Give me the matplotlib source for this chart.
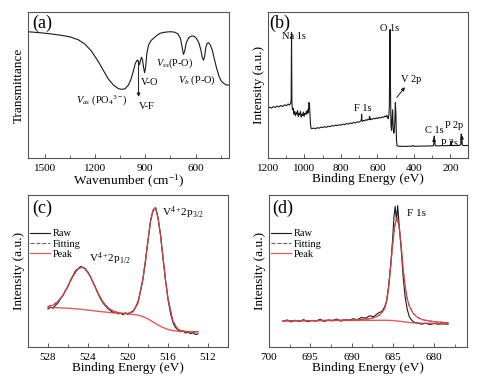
import matplotlib
matplotlib.use('Agg')
import matplotlib.pyplot as plt
from matplotlib.ticker import MultipleLocator

plt.rcParams['font.family'] = 'Liberation Serif'
plt.rcParams['mathtext.fontset'] = 'custom'
plt.rcParams['mathtext.rm'] = 'Liberation Serif'
plt.rcParams['mathtext.it'] = 'Liberation Serif:italic'
plt.rcParams['axes.linewidth'] = 0.8

# (a) FT-IR spectrum
ir_wn = [1600, 1550, 1500, 1450, 1400, 1350, 1300, 1260, 1220, 1180,
         1150, 1120, 1090, 1060, 1040, 1020, 1000, 985, 970, 960,
         952, 946, 940, 934, 928, 922, 916, 910, 904, 898,
         890, 880, 865, 850, 830, 810, 780, 750, 725, 705,
         690, 680, 672, 665, 655, 640, 625, 610, 595, 580,
         568, 560, 552, 545, 538, 530, 522, 512, 500, 488,
         475, 460, 445, 430, 415, 400]
ir_t = [0.865, 0.860, 0.855, 0.848, 0.840, 0.830, 0.810, 0.780, 0.730, 0.660,
        0.600, 0.540, 0.500, 0.475, 0.470, 0.475, 0.500, 0.540, 0.600, 0.645,
        0.665, 0.670, 0.655, 0.640, 0.670, 0.690, 0.670, 0.620, 0.585, 0.620,
        0.720, 0.775, 0.805, 0.820, 0.840, 0.855, 0.862, 0.865, 0.862, 0.850,
        0.820, 0.760, 0.710, 0.730, 0.790, 0.825, 0.835, 0.835, 0.820, 0.790,
        0.740, 0.690, 0.670, 0.700, 0.760, 0.785, 0.790, 0.775, 0.740, 0.680,
        0.620, 0.560, 0.525, 0.510, 0.500, 0.500]

# (b) XPS survey
sv_e = [1200, 1190, 1180, 1170, 1160, 1150, 1140, 1130, 1120, 1110,
        1100, 1090, 1082, 1076, 1073, 1071, 1069, 1066, 1062, 1058,
        1054, 1050, 1046, 1042, 1038, 1034, 1030, 1026, 1022, 1018,
        1014, 1010, 1006, 1002, 998, 994, 990, 986, 982, 979,
        976, 973, 970, 967, 964, 960, 950, 940, 930, 920,
        910, 900, 890, 880, 870, 860, 850, 840, 830, 820,
        810, 800, 790, 780, 770, 760, 750, 740, 730, 720,
        710, 700, 694, 690, 688, 687, 685, 682, 676, 670,
        664, 658, 652, 646, 643, 640, 636, 630, 622, 614,
        606, 598, 590, 582, 574, 566, 558, 552, 548, 544,
        541, 538, 535, 533, 531, 529, 526, 523, 520, 517,
        514, 511, 508, 505, 502, 499, 496, 493, 490, 480,
        470, 460, 450, 440, 430, 420, 410, 406, 402, 398,
        390, 380, 370, 360, 350, 340, 330, 320, 310, 300,
        294, 291, 289, 287, 284, 280, 270, 260, 250, 240,
        230, 220, 210, 203, 199, 197, 195, 192, 185, 175,
        165, 155, 148, 144, 142, 140, 138, 135, 130, 120,
        110, 105]
sv_i = [0.340, 0.348, 0.342, 0.352, 0.346, 0.356, 0.350, 0.360, 0.352, 0.364,
        0.358, 0.370, 0.362, 0.375, 0.400, 0.860, 0.380, 0.330, 0.340, 0.300,
        0.320, 0.290, 0.310, 0.300, 0.325, 0.285, 0.305, 0.295, 0.320, 0.280,
        0.300, 0.290, 0.315, 0.285, 0.305, 0.300, 0.320, 0.300, 0.330, 0.310,
        0.380, 0.370, 0.300, 0.230, 0.205, 0.200, 0.205, 0.200, 0.208, 0.204,
        0.212, 0.208, 0.215, 0.210, 0.218, 0.214, 0.222, 0.218, 0.226, 0.222,
        0.228, 0.225, 0.232, 0.228, 0.236, 0.232, 0.240, 0.236, 0.244, 0.240,
        0.248, 0.245, 0.252, 0.255, 0.270, 0.300, 0.258, 0.250, 0.258, 0.255,
        0.262, 0.258, 0.266, 0.262, 0.285, 0.262, 0.268, 0.264, 0.272, 0.268,
        0.275, 0.270, 0.278, 0.274, 0.282, 0.278, 0.288, 0.282, 0.292, 0.275,
        0.270, 0.290, 0.350, 0.600, 0.880, 0.500, 0.220, 0.190, 0.260, 0.330,
        0.200, 0.170, 0.180, 0.250, 0.380, 0.300, 0.120, 0.085, 0.082, 0.080,
        0.081, 0.079, 0.080, 0.079, 0.081, 0.080, 0.082, 0.086, 0.081, 0.080,
        0.081, 0.080, 0.082, 0.081, 0.082, 0.081, 0.083, 0.082, 0.083, 0.082,
        0.084, 0.100, 0.150, 0.120, 0.086, 0.083, 0.084, 0.083, 0.085, 0.084,
        0.085, 0.084, 0.086, 0.085, 0.090, 0.115, 0.095, 0.086, 0.085, 0.086,
        0.085, 0.087, 0.086, 0.095, 0.160, 0.165, 0.110, 0.088, 0.086, 0.085,
        0.086, 0.085]

# (c) V 2p
v_raw_e = [528.00, 527.75, 527.50, 527.25, 527.00, 526.75, 526.50, 526.25, 526.00, 525.75,
           525.50, 525.25, 525.00, 524.75, 524.50, 524.25, 524.00, 523.75, 523.50, 523.25,
           523.00, 522.75, 522.50, 522.25, 522.00, 521.75, 521.50, 521.25, 521.00, 520.75,
           520.50, 520.25, 520.00, 519.75, 519.50, 519.25, 519.00, 518.75, 518.50, 518.25,
           518.00, 517.75, 517.50, 517.25, 517.00, 516.75, 516.50, 516.25, 516.00, 515.75,
           515.50, 515.25, 515.00, 514.75, 514.50, 514.25, 514.00, 513.75, 513.50, 513.25,
           513.00]
v_raw = [0.250, 0.262, 0.255, 0.275, 0.290, 0.318, 0.338, 0.372, 0.398, 0.440,
         0.470, 0.502, 0.512, 0.530, 0.522, 0.515, 0.488, 0.462, 0.425, 0.390,
         0.352, 0.318, 0.290, 0.270, 0.252, 0.240, 0.226, 0.232, 0.218, 0.222,
         0.212, 0.225, 0.215, 0.228, 0.236, 0.262, 0.298, 0.370, 0.450, 0.572,
         0.700, 0.830, 0.895, 0.918, 0.850, 0.740, 0.585, 0.440, 0.315, 0.222,
         0.160, 0.128, 0.112, 0.100, 0.106, 0.092, 0.098, 0.088, 0.094, 0.082,
         0.086]
v_fit_e = [528.0, 527.5, 527.0, 526.5, 526.0, 525.5, 525.0, 524.5, 524.0, 523.5,
           523.0, 522.5, 522.0, 521.5, 521.0, 520.5, 520.0, 519.5, 519.0, 518.5,
           518.25, 518.0, 517.75, 517.5, 517.25, 517.0, 516.75, 516.5, 516.25, 516.0,
           515.5, 515.0, 514.5, 514.0, 513.5, 513.0]
v_fit = [0.266, 0.276, 0.300, 0.341, 0.402, 0.466, 0.515, 0.525, 0.492, 0.427,
         0.355, 0.296, 0.258, 0.237, 0.226, 0.221, 0.221, 0.231, 0.289, 0.447,
         0.568, 0.703, 0.824, 0.902, 0.915, 0.854, 0.736, 0.589, 0.442, 0.318,
         0.169, 0.116, 0.104, 0.101, 0.100, 0.100]
v_bg_e = [528.0, 527.0, 526.0, 525.0, 524.0, 523.0, 522.0, 521.0, 520.0, 519.0,
          518.5, 518.0, 517.5, 517.0, 516.5, 516.0, 515.5, 515.0, 514.0, 513.0]
v_bg = [0.260, 0.258, 0.255, 0.250, 0.243, 0.235, 0.228, 0.222, 0.218, 0.210,
        0.200, 0.185, 0.165, 0.145, 0.128, 0.115, 0.108, 0.104, 0.101, 0.100]

# (d) F 1s
f_raw_e = [698.3, 697.8, 697.3, 696.8, 696.3, 695.8, 695.3, 694.8, 694.3, 693.8,
           693.3, 692.8, 692.3, 691.8, 691.3, 690.8, 690.3, 689.8, 689.3, 688.8,
           688.3, 687.8, 687.3, 686.8, 686.3, 686.0, 685.75, 685.5, 685.25, 685.0,
           684.85, 684.7, 684.55, 684.4, 684.25, 684.0, 683.75, 683.5, 683.25, 683.0,
           682.75, 682.5, 682.0, 681.5, 681.0, 680.5, 680.0, 679.5, 679.0, 678.3]
f_raw = [0.170, 0.178, 0.165, 0.176, 0.168, 0.180, 0.166, 0.175, 0.170, 0.182,
         0.168, 0.178, 0.172, 0.184, 0.170, 0.180, 0.176, 0.186, 0.180, 0.194,
         0.190, 0.205, 0.200, 0.222, 0.235, 0.262, 0.300, 0.400, 0.540, 0.720,
         0.860, 0.925, 0.830, 0.930, 0.820, 0.660, 0.470, 0.330, 0.250, 0.200,
         0.180, 0.165, 0.158, 0.150, 0.156, 0.148, 0.155, 0.150, 0.152, 0.150]
f_fit_e = [698.3, 696.0, 694.0, 692.0, 690.0, 689.0, 688.0, 687.5, 687.0, 686.5,
           686.0, 685.75, 685.5, 685.25, 685.0, 684.75, 684.5, 684.25, 684.0, 683.75,
           683.5, 683.25, 683.0, 682.5, 682.0, 681.5, 681.0, 680.0, 679.0, 678.3]
f_fit = [0.172, 0.173, 0.174, 0.176, 0.178, 0.180, 0.185, 0.190, 0.198, 0.215,
         0.250, 0.300, 0.390, 0.530, 0.680, 0.800, 0.850, 0.800, 0.680, 0.520,
         0.400, 0.320, 0.270, 0.220, 0.195, 0.182, 0.175, 0.167, 0.162, 0.160]
f_bg_e = [698.3, 690.0, 686.0, 685.0, 684.0, 683.0, 682.0, 681.0, 678.3]
f_bg = [0.172, 0.175, 0.176, 0.174, 0.168, 0.161, 0.157, 0.156, 0.155]

red = '#d9403f'
ink = '#1a1a1a'
frame = '#555555'

fig = plt.figure(figsize=(4.85, 3.88), dpi=100)
ax_a = fig.add_axes([28/485, 1-158/388, 201/485, 146/388])
ax_b = fig.add_axes([268/485, 1-158/388, 200/485, 146/388])
ax_c = fig.add_axes([28/485, 1-347/388, 200/485, 152/388])
ax_d = fig.add_axes([269/485, 1-347/388, 198/485, 152/388])


def style(ax, xlim, major, minor, xlabel, ylabel):
    ax.set_xlim(*xlim)
    ax.set_ylim(0, 1)
    ax.set_yticks([])
    ax.xaxis.set_major_locator(MultipleLocator(major))
    ax.xaxis.set_minor_locator(MultipleLocator(minor))
    ax.tick_params(axis='x', which='major', direction='in', length=3, width=0.7,
                   labelsize=8, pad=4, color=frame)
    ax.tick_params(axis='x', which='minor', direction='in', length=2, width=0.6, color=frame)
    for s in ax.spines.values():
        s.set_color(frame)
    ax.set_xlabel(xlabel, fontsize=9.5, labelpad=0)
    ax.set_ylabel(ylabel, fontsize=9.5, labelpad=2)


# (a)
ax_a.plot(ir_wn, ir_t, color=ink, lw=0.8)
style(ax_a, (1600, 400), 300, 150, 'Wavenumber (cm$^{-1}$)', 'Transmittance')
ax_a.text(1575, 0.925, '(a)', fontsize=13, ha='left', va='center')
ax_a.text(1160, 0.40, r'$V_{as}$ (PO$_4$$^{3-}$)', fontsize=7.5, ha='center', va='center')
ax_a.annotate('', xy=(940, 0.40), xytext=(940, 0.685),
              arrowprops=dict(arrowstyle='-|>', color=ink, lw=0.7, mutation_scale=5))
ax_a.text(940, 0.355, 'V-F', fontsize=7.5, ha='left', va='center')
ax_a.text(928, 0.52, 'V-O', fontsize=7.5, ha='left', va='center')
ax_a.text(838, 0.65, r'$V_{ss}$(P-O)', fontsize=7.5, ha='left', va='center')
ax_a.text(706, 0.535, r'$V_b$ (P-O)', fontsize=7.5, ha='left', va='center')

# (b)
ax_b.plot(sv_e, sv_i, color=ink, lw=0.8)
style(ax_b, (1200, 104), 200, 100, 'Binding Energy (eV)', 'Intensity (a.u.)')
ax_b.text(1192, 0.925, '(b)', fontsize=13, ha='left', va='center')
ax_b.text(1060, 0.83, 'Na 1s', fontsize=7.5, ha='center', va='center')
ax_b.text(533, 0.885, 'O 1s', fontsize=7.5, ha='center', va='center')
ax_b.text(470, 0.535, 'V 2p', fontsize=7.5, ha='left', va='center')
ax_b.annotate('', xy=(440, 0.50), xytext=(504, 0.40),
              arrowprops=dict(arrowstyle='-|>', color=ink, lw=0.7, mutation_scale=5))
ax_b.text(682, 0.34, 'F 1s', fontsize=7.5, ha='center', va='center')
ax_b.text(288, 0.19, 'C 1s', fontsize=7.5, ha='center', va='center')
ax_b.annotate('', xy=(290, 0.16), xytext=(290, 0.085),
              arrowprops=dict(arrowstyle='-|>', color=ink, lw=0.7, mutation_scale=5))
ax_b.text(205, 0.10, 'P 2s', fontsize=7.5, ha='center', va='center')
ax_b.text(178, 0.225, 'P 2p', fontsize=7.5, ha='center', va='center')
ax_b.annotate('', xy=(137, 0.175), xytext=(137, 0.075),
              arrowprops=dict(arrowstyle='-|>', color=ink, lw=0.7, mutation_scale=5))

# (c)
ax_c.plot(v_raw_e, v_raw, color=ink, lw=0.8, label='Raw')
ax_c.plot(v_fit_e, v_fit, color='#666666', lw=0.8, ls='--', label='Fitting')
ax_c.plot(v_fit_e, v_fit, color=red, lw=0.9, alpha=0.85, label='Peak')
ax_c.plot(v_bg_e, v_bg, color=red, lw=1.0, alpha=0.85)
style(ax_c, (530, 510), 4, 2, 'Binding Energy (eV)', 'Intensity (a.u.)')
ax_c.text(529.6, 0.91, '(c)', fontsize=13, ha='left', va='center')
ax_c.text(516.6, 0.885, r'V$^{4+}$2p$_{3/2}$', fontsize=8, ha='left', va='center')
ax_c.text(523.9, 0.58, r'V$^{4+}$2p$_{1/2}$', fontsize=8, ha='left', va='center')
ax_c.legend(loc='upper left', bbox_to_anchor=(0.0, 0.79), frameon=False, fontsize=7.5,
            handlelength=1.9, handletextpad=0.25, labelspacing=0.1, borderpad=0.2,
            borderaxespad=0)

# (d)
ax_d.plot(f_raw_e, f_raw, color=ink, lw=0.8, label='Raw')
ax_d.plot(f_fit_e, f_fit, color='#666666', lw=0.8, ls='--', label='Fitting')
ax_d.plot(f_fit_e, f_fit, color=red, lw=0.9, alpha=0.85, label='Peak')
ax_d.plot(f_bg_e, f_bg, color=red, lw=1.0, alpha=0.85)
style(ax_d, (700, 676), 5, 2.5, 'Binding Energy (eV)', 'Intensity (a.u.)')
ax_d.text(699.6, 0.91, '(d)', fontsize=13, ha='left', va='center')
ax_d.text(683.3, 0.875, 'F 1s', fontsize=8, ha='left', va='center')
ax_d.legend(loc='upper left', bbox_to_anchor=(0.0, 0.79), frameon=False, fontsize=7.5,
            handlelength=1.9, handletextpad=0.25, labelspacing=0.1, borderpad=0.2,
            borderaxespad=0)

fig.savefig('out.png', dpi=100)
